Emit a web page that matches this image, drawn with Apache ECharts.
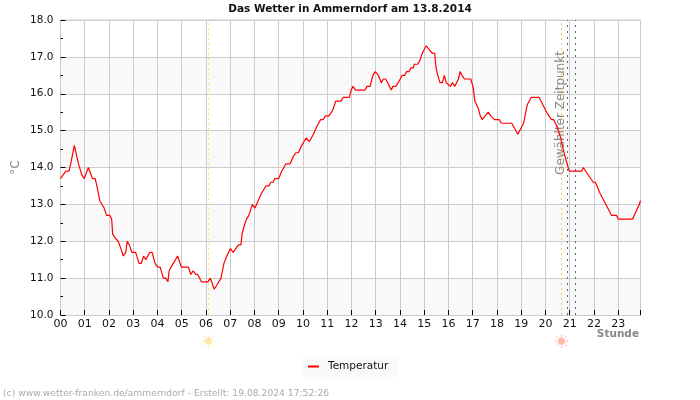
<!DOCTYPE html>
<html>
<head>
<meta charset="utf-8">
<style>html,body{margin:0;padding:0;background:#fff}#c{width:700px;height:400px}</style>
<script src="https://cdn.jsdelivr.net/npm/echarts@6/dist/echarts.min.js"></script>
</head>
<body>
<div id="c"></div>
<script>
const FONT = '"DejaVu Sans"';
const titleText = 'Das Wetter in Ammerndorf am 13.8.2014';
const seriesName = 'Temperatur';
const footerText = '(c) www.wetter-franken.de/ammerndorf - Erstellt: 19.08.2024 17:52:26';
const hours = [0,0.22,0.35,0.42,0.57,0.74,0.88,0.98,1.15,1.32,1.43,
1.50,1.62,1.80,1.90,2.04,2.11,2.15,2.24,2.38,2.49,2.59,2.69,2.75,2.84,2.94,3.10,3.24,3.33,3.43,3.52,3.68,3.78,3.90,4.01,4.11,4.24,4.34,4.43,4.48,
4.56,4.65,4.73,4.83,4.90,4.98,5.27,5.38,5.47,5.57,5.66,5.81,6.08,6.18,6.34,6.44,6.62,6.74,6.86,6.94,7.01,7.12,7.20,7.34,7.44,
7.49,7.57,7.67,7.77,7.91,8.02,8.10,8.15,8.29,8.47,8.60,8.67,8.77,8.84,9.00,9.12,9.30,9.47,9.60,9.71,9.81,9.95,10.13,10.26,10.43,
10.56,10.73,10.83,10.93,11.07,11.18,11.25,11.35,11.57,11.65,11.91,11.99,12.06,12.17,12.56,12.64,12.77,12.88,12.98,13.11,13.23,13.32,13.41,
13.49,13.57,13.64,13.71,13.82,13.93,14.09,14.20,14.27,14.37,14.45,14.55,14.59,14.73,14.82,14.92,15.00,15.08,15.20,15.28,15.33,15.43,15.49,15.56,15.65,15.75,15.83,15.91,15.99,16.08,16.16,16.26,16.41,
16.48,16.56,16.66,16.92,17.01,17.09,17.16,17.23,17.31,17.39,17.47,17.64,17.74,17.82,17.90,18.09,18.18,18.61,18.86,19.02,19.10,19.19,19.25,19.32,19.41,
19.74,20.05,20.14,20.25,20.34,20.48,20.63,20.73,20.85,20.98,21.49,21.56,21.64,21.97,22.06,22.25,
22.73,22.93,23.01,23.59,23.73,23.87,23.92];
const temps = [13.7,13.9,13.9,14.1,14.6,14.1,13.8,13.7,14.0,13.7,13.7,13.5,13.1,12.9,12.7,12.7,12.6,12.2,12.1,12.0,11.8,11.6,11.7,12.0,11.9,11.7,11.7,11.4,11.4,11.6,11.5,11.7,11.7,11.4,11.3,11.3,11.0,11.0,10.9,11.2,11.2,11.4,11.4,11.6,11.6,11.3,11.3,11.1,11.2,11.1,11.1,10.9,10.9,11.0,10.7,10.8,11.0,11.4,11.6,11.6,11.8,11.7,11.7,11.9,11.9,12.2,12.4,12.6,12.7,13.0,12.9,12.9,13.1,13.3,13.5,13.5,13.6,13.6,13.7,13.7,13.9,14.1,14.1,14.3,14.4,14.4,14.6,14.8,14.7,14.9,15.1,15.3,15.3,15.4,15.4,15.5,15.6,15.8,15.8,15.9,15.9,16.1,16.2,16.1,16.1,16.2,16.2,16.5,16.6,16.5,16.3,16.4,16.4,16.3,16.3,16.1,16.2,16.2,16.3,16.5,16.5,16.6,16.6,16.7,16.7,16.8,16.8,16.9,17.1,17.1,17.3,17.2,17.2,17.1,17.1,16.7,16.5,16.3,16.3,16.5,16.3,16.3,16.2,16.3,16.2,16.4,16.6,16.5,16.4,16.4,16.2,15.8,15.7,15.6,15.4,15.3,15.3,15.5,15.4,15.4,15.3,15.3,15.2,15.2,14.9,15.1,15.2,15.5,15.7,15.7,15.9,15.9,15.5,15.4,15.3,15.3,15.1,14.8,14.5,14.2,13.9,13.9,14.0,14.0,13.6,13.6,13.3,12.7,12.7,12.6,12.6,12.8,13.0,13.1];
const lastHour = 23.92;
const sunriseHour = 6.104;
const sunsetHour = 20.662;
const selectedHours = [20.91, 21.24];
const sunLevel = 9.29;
const sunPath = 'path://M8 3.6a4.4 4.4 0 1 0 .01 0z M7.2 0h1.6v2.4h-1.6z M7.2 13.6h1.6v2.4h-1.6z M0 7.2h2.4v1.6h-2.4z M13.6 7.2h2.4v1.6h-2.4z M2 2h1.5v1.5h-1.5z M12.5 2h1.5v1.5h-1.5z M2 12.5h1.5v1.5h-1.5z M12.5 12.5h1.5v1.5h-1.5z';

const chart = echarts.init(document.getElementById('c'), null, {renderer:'canvas'});
chart.setOption({
  animation:false,
  backgroundColor:'#fff',
  textStyle:{fontFamily:FONT},
  title:{text:titleText,left:'center',top:4,padding:0,textStyle:{fontFamily:FONT,fontSize:10.5,fontWeight:'bold',color:'#111'}},
  grid:{left:60.5,top:20,width:580,height:295,show:true,borderColor:'#ccc',borderWidth:1,backgroundColor:'transparent',outerBoundsMode:'none'},
  legend:{data:[seriesName],left:303,top:357,backgroundColor:'#f9f9f9',padding:[4,10,5,5],icon:'rect',itemWidth:11,itemHeight:2,itemGap:5,
    textStyle:{fontFamily:FONT,fontSize:10.5,color:'#111',padding:[0,0,0,4]}},
  xAxis:{type:'value',min:0,max:lastHour,interval:1,
    axisLine:{lineStyle:{color:'#ccc'}},
    axisTick:{inside:true,length:5,lineStyle:{color:'#000'}},
    axisLabel:{fontFamily:FONT,fontSize:11,color:'#111',margin:4,formatter:v=>Number.isInteger(v)?String(v).padStart(2,'0'):''},
    splitLine:{show:true,lineStyle:{color:'#ccc'}}},
  yAxis:{type:'value',min:10,max:18,interval:1,name:'°C',nameLocation:'middle',nameGap:39,nameRotate:90,nameMoveOverlap:false,
    nameTextStyle:{fontFamily:FONT,fontSize:12,color:'#888'},
    axisLine:{show:true,lineStyle:{color:'#ccc'}},
    axisTick:{show:true,inside:true,length:5,lineStyle:{color:'#000'}},
    minorTick:{show:true,splitNumber:2,length:2.5,lineStyle:{color:'#000'}},
    axisLabel:{fontFamily:FONT,fontSize:10.5,color:'#111',margin:7,formatter:v=>v.toFixed(1)},
    splitLine:{show:true,lineStyle:{color:'#ccc'}},
    splitArea:{show:true,areaStyle:{color:['#f9f9f9','#ffffff']}}},
  series:[
    {name:seriesName,type:'line',showSymbol:false,symbol:'none',z:5,
     data:hours.map((h,i)=>[h,temps[i]]),
     lineStyle:{color:'#f00',width:1.2},itemStyle:{color:'#f00'},
     markLine:{silent:true,symbol:'none',label:{show:false},animation:false,
       data:[
         {xAxis:sunriseHour,lineStyle:{color:'#ffe95a',type:[2,3],width:1}},
         {xAxis:sunsetHour,lineStyle:{color:'#f5c078',type:[2,3],width:1}},
         {xAxis:selectedHours[0],lineStyle:{color:'#666',type:[2,4],width:1}},
         {xAxis:selectedHours[1],lineStyle:{color:'#666',type:[2,4],width:1}}
       ]}},
    {name:'Sonnenaufgang',type:'scatter',clip:false,symbol:sunPath,symbolSize:13,silent:true,
     data:[[sunriseHour,sunLevel]],itemStyle:{color:'#ffe9a8',opacity:1}},
    {name:'Sonnenuntergang',type:'scatter',clip:false,symbol:sunPath,symbolSize:13,silent:true,
     data:[[sunsetHour,sunLevel]],itemStyle:{color:'#ffb9a4',opacity:1}}
  ],
  graphic:[
    {type:'text',x:561,y:113,rotation:Math.PI/2,z:1,style:{text:'Gewählter Zeitpunkt',fontFamily:FONT,fontSize:12,fill:'#888',textAlign:'center',textVerticalAlign:'middle'}},
    {type:'text',x:639,y:334,z:3,style:{text:'Stunde',fontFamily:FONT,fontSize:10.5,fontWeight:'bold',fill:'#888',textAlign:'right',textVerticalAlign:'middle'}},
    {type:'text',x:3,y:394,z:3,style:{text:footerText,fontFamily:FONT,fontSize:9.2,fill:'#aaa',textAlign:'left',textVerticalAlign:'middle'}}
  ]
});
</script>
</body>
</html>
